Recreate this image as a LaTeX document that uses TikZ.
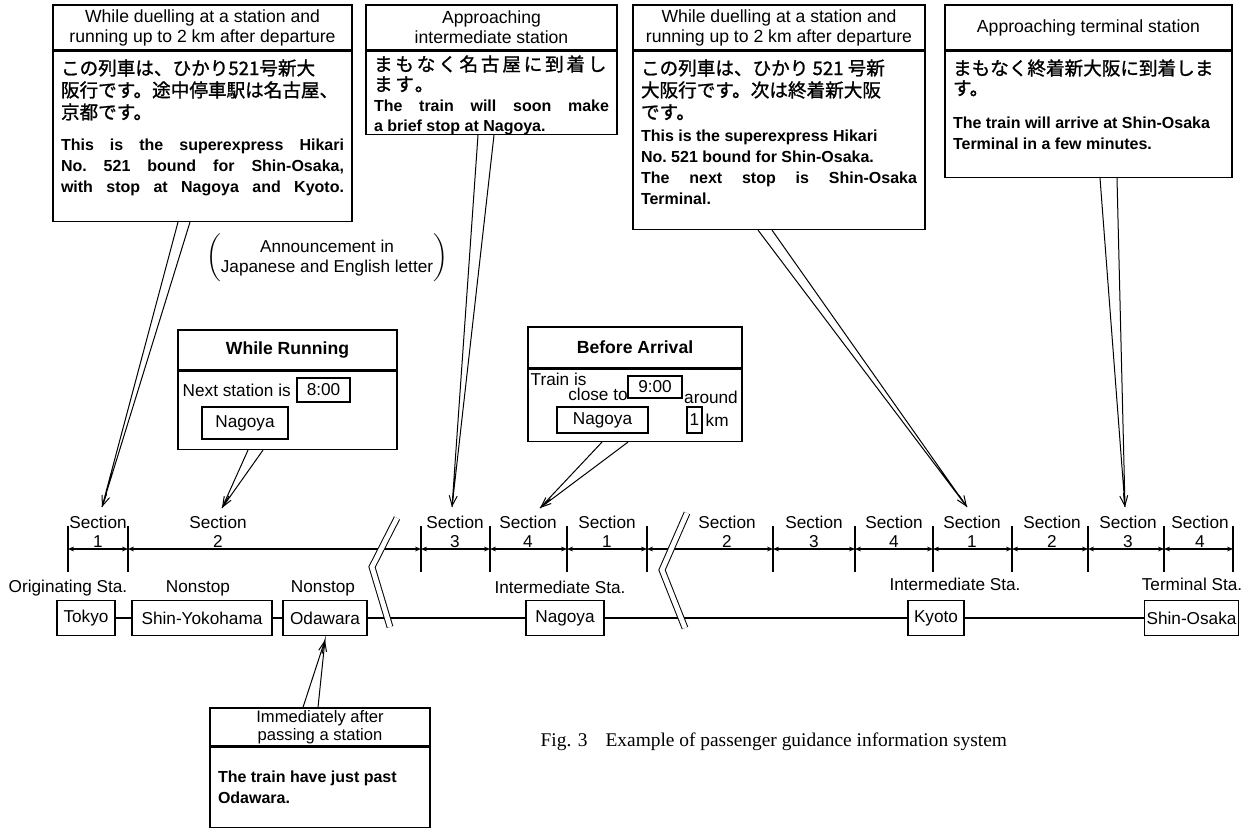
\documentclass[tikz,border=0pt]{standalone}
\usepackage{fontspec}
\setmainfont{Liberation Sans}
\newfontfamily\jpfont[FakeBold=1.2]{Noto Sans CJK JP}
\newfontfamily\capfont{Liberation Serif}
\usetikzlibrary{positioning,arrows.meta,calc}
\newcommand{\fullline}[1]{\makebox[\linewidth][s]{#1}}
\newcommand{\jpbody}{\jpfont\fontsize{9.3}{11}\selectfont}
\newcommand{\enbody}{\rmfamily\bfseries\frenchspacing\fontsize{8}{10.5}\selectfont}

\begin{document}
\begin{tikzpicture}[x=0.5pt, y=-0.5pt, line width=0.7pt,
  head/.style={draw, inner sep=1pt, align=center, font=\fontsize{8.8}{10}\selectfont},
  body/.style={draw, inner xsep=4pt, inner ysep=4pt},
  shown/.style={draw, inner sep=1pt, font=\fontsize{8.6}{10}\selectfont},
  sta/.style={draw, minimum height=17.5pt, inner sep=1pt, font=\fontsize{8.6}{10}\selectfont},
  lbl/.style={inner sep=0pt, font=\fontsize{8.6}{10}\selectfont},
  seclbl/.style={inner sep=0pt, align=center, font=\fontsize{8.6}{9.5}\selectfont},
  wedge/.style={line width=0.5pt},
  tipend/.style={line width=0.5pt, -{Straight Barb[length=5pt, width=4pt]}},
  dim/.style={line width=0.6pt, {Stealth[length=3pt, width=2.4pt]}-{Stealth[length=3pt, width=2.4pt]}},
  brk/.style={double, double distance=2.4pt, line width=0.5pt}]

\useasboundingbox (0,0) rectangle (1252,829);

% announcements on the top row
\node[head, minimum width=149.5pt, minimum height=22.5pt] (headA) at (202.5,27.5) {While duelling at a station and\\running up to 2 km after departure};
\node[body, below=0pt of headA] (bodyA) {\parbox[c][77pt][t]{141.5pt}{\jpbody この列車は、ひかり521号新大\\阪行です。途中停車駅は名古屋、\\京都です。\par\vspace{5pt}\enbody\fullline{This is the superexpress Hikari}\\\fullline{No. 521 bound for Shin-Osaka,}\\\fullline{with stop at Nagoya and Kyoto.}}};

\node[head, minimum width=125.5pt, minimum height=22.5pt] (headB) at (491.5,27.5) {Approaching\\intermediate station};
\node[body, inner ysep=2pt, below=0pt of headB] (bodyB) {\parbox[c][37.5pt][t]{117.5pt}{\jpfont\fontsize{9.3}{10}\selectfont\addfontfeature{LetterSpace=15}まもなく名古屋に到着し\\ます。\par\enbody\fontsize{8}{10}\selectfont\fullline{The train will soon make}\\a brief stop at Nagoya.}};

\node[head, minimum width=146pt, minimum height=22.5pt] (headC) at (779,27.5) {While duelling at a station and\\running up to 2 km after departure};
\node[body, below=0pt of headC] (bodyC) {\parbox[c][81pt][t]{138pt}{\jpbody この列車は、ひかり 521 号新\\大阪行です。次は終着新大阪\\です。\par\vspace{0.5pt}\enbody This is the superexpress Hikari\\No. 521 bound for Shin-Osaka.\\\fullline{The next stop is Shin-Osaka}\\Terminal.}};

\node[head, minimum width=143.5pt, minimum height=22.5pt] (headD) at (1088.5,27.5) {Approaching terminal station};
\node[body, below=0pt of headD] (bodyD) {\parbox[c][55pt][t]{135.5pt}{\jpfont\fontsize{9.3}{10}\selectfont まもなく終着新大阪に到着しま\\す。\par\vspace{6pt}\enbody The train will arrive at Shin-Osaka\\Terminal in a few minutes.}};

\node[lbl] (announce) at (327,258) {$\left(\begin{tabular}{@{}c@{}}Announcement in\\Japanese and English letter\end{tabular}\right)$};

% displays while running
\node[head, font=\bfseries\fontsize{8.8}{10}\selectfont, minimum width=109.5pt, minimum height=20pt] (headE) at (287.5,350) {While Running};
\node[draw, minimum width=109.5pt, minimum height=39pt, below=0pt of headE] (bodyE) {};
\node[lbl, anchor=west] (nextE) at (182,390) {Next station is};
\node[shown, minimum width=26.5pt, minimum height=12pt] (timeE) at (323.5,390) {8:00};
\node[shown, minimum width=43pt, minimum height=16pt] (staE) at (245,423) {Nagoya};

\node[head, font=\bfseries\fontsize{8.8}{10}\selectfont, minimum width=107pt, minimum height=20.5pt] (headF) at (635,347.5) {Before Arrival};
\node[draw, minimum width=107pt, minimum height=36pt, below=0pt of headF] (bodyF) {};
\node[lbl, anchor=west] (trainF) at (530,379) {Train is};
\node[lbl] (closeF) at (598,394) {close to};
\node[shown, minimum width=27pt, minimum height=11pt] (timeF) at (655,387) {9:00};
\node[lbl] (aroundF) at (711,397) {around};
\node[shown, minimum width=45.5pt, minimum height=13pt] (staF) at (602.5,420) {Nagoya};
\node[shown, minimum width=7.5pt, minimum height=13pt, inner sep=0.5pt] (distF) at (694.5,420) {1};
\node[lbl, anchor=west] (kmF) at (705,420) {km};

% after passing
\node[head, font=\fontsize{8.3}{8.8}\selectfont, inner sep=0pt, minimum width=110pt, minimum height=19pt] (headG) at (320,727) {Immediately after\\passing a station};
\node[body, below=0pt of headG] (bodyG) {\parbox[c][32pt][c]{102pt}{\enbody The train have just past\\Odawara.}};

% sections
\foreach \x [count=\i] in {68,128,421,490,567,647,773,855,933,1012,1088,1164,1233} {
  \coordinate (t\i) at (\x,549);
  \draw ($(t\i)+(0,-23)$) -- ($(t\i)+(0,23)$);
}
\foreach \a/\b in {1/2,2/3,3/4,4/5,5/6,6/7,7/8,8/9,9/10,10/11,11/12,12/13}
  \draw[dim] (t\a) -- (t\b);
\foreach \x/\n [count=\i] in {98/1,218/2,455/3,528/4,607/1,727/2,814/3,894/4,972/1,1052/2,1128/3,1200/4}
  \node[seclbl] (sec\i) at (\x,532) {Section\\\n};

% stations
\node[lbl] (origlbl) at (68,588) {Originating Sta.};
\node[lbl] (non1lbl) at (198,588) {Nonstop};
\node[lbl] (non2lbl) at (323,588) {Nonstop};
\node[lbl] (int1lbl) at (560,587) {Intermediate Sta.};
\node[lbl] (int2lbl) at (955,584) {Intermediate Sta.};
\node[lbl] (termlbl) at (1192,584) {Terminal Sta.};

\node[sta, minimum width=29pt] (tokyo) at (86,618) {Tokyo};
\node[sta, minimum width=70pt] (shinyoko) at (202,618) {Shin-Yokohama};
\node[sta, minimum width=42pt] (odawara) at (325,618) {Odawara};
\node[sta, minimum width=39pt] (nagoya) at (565,618) {Nagoya};
\node[sta, minimum width=28pt] (kyoto) at (936,618) {Kyoto};
\node[sta, minimum width=45.5pt] (shinosaka) at (1191.5,618) {Shin-Osaka};
\draw (tokyo) -- (shinyoko) -- (odawara) -- (nagoya) -- (kyoto) -- (shinosaka);

% breaks
\draw[brk] (397,518) -- (372,567) -- (390,627);
\draw[brk] (687,513) -- (662,570) -- (685,628);

% pointers
\coordinate (tipA) at (102,507);
\draw[wedge] ([xshift=-12.25pt]bodyA.south) -- (tipA) -- ([xshift=-6.25pt]bodyA.south);
\draw[tipend] ($(tipA)!7pt!(bodyA.south)$) -- (tipA);
\coordinate (tipB) at (452,507);
\draw[wedge] ([xshift=-6.75pt]bodyB.south) -- (tipB) -- ([xshift=1.25pt]bodyB.south);
\draw[tipend] ($(tipB)!7pt!(bodyB.south)$) -- (tipB);
\coordinate (tipC) at (967,507);
\draw[wedge] ([xshift=-10.5pt]bodyC.south) -- (tipC) -- ([xshift=-3.5pt]bodyC.south);
\draw[tipend] ($(tipC)!7pt!(bodyC.south)$) -- (tipC);
\coordinate (tipD) at (1125,507);
\draw[wedge] ([xshift=5.75pt]bodyD.south) -- (tipD) -- ([xshift=14.25pt]bodyD.south);
\draw[tipend] ($(tipD)!7pt!(bodyD.south)$) -- (tipD);
\coordinate (tipE) at (222,508);
\draw[wedge] ([xshift=-19.75pt]bodyE.south) -- (tipE) -- ([xshift=-12.25pt]bodyE.south);
\draw[tipend] ($(tipE)!7pt!([xshift=-16pt]bodyE.south)$) -- (tipE);
\coordinate (tipF) at (540,508);
\draw[wedge] ([xshift=-16.5pt]bodyF.south) -- (tipF) -- ([xshift=-3.5pt]bodyF.south);
\draw[tipend] ($(tipF)!7pt!([xshift=-10pt]bodyF.south)$) -- (tipF);
\coordinate (tipG) at (325,640);
\draw[wedge] ([xshift=-8.5pt]headG.north) -- (tipG) -- ([xshift=-1pt]headG.north);
\draw[tipend] ($(tipG)!7pt!([xshift=-4.75pt]headG.north)$) -- (tipG);

\node[anchor=west, inner sep=0pt, font=\capfont\fontsize{9.7}{11}\selectfont] (caption) at (540,742) {Fig. 3\hspace{9pt}Example of passenger guidance information system};
\end{tikzpicture}
\end{document}
